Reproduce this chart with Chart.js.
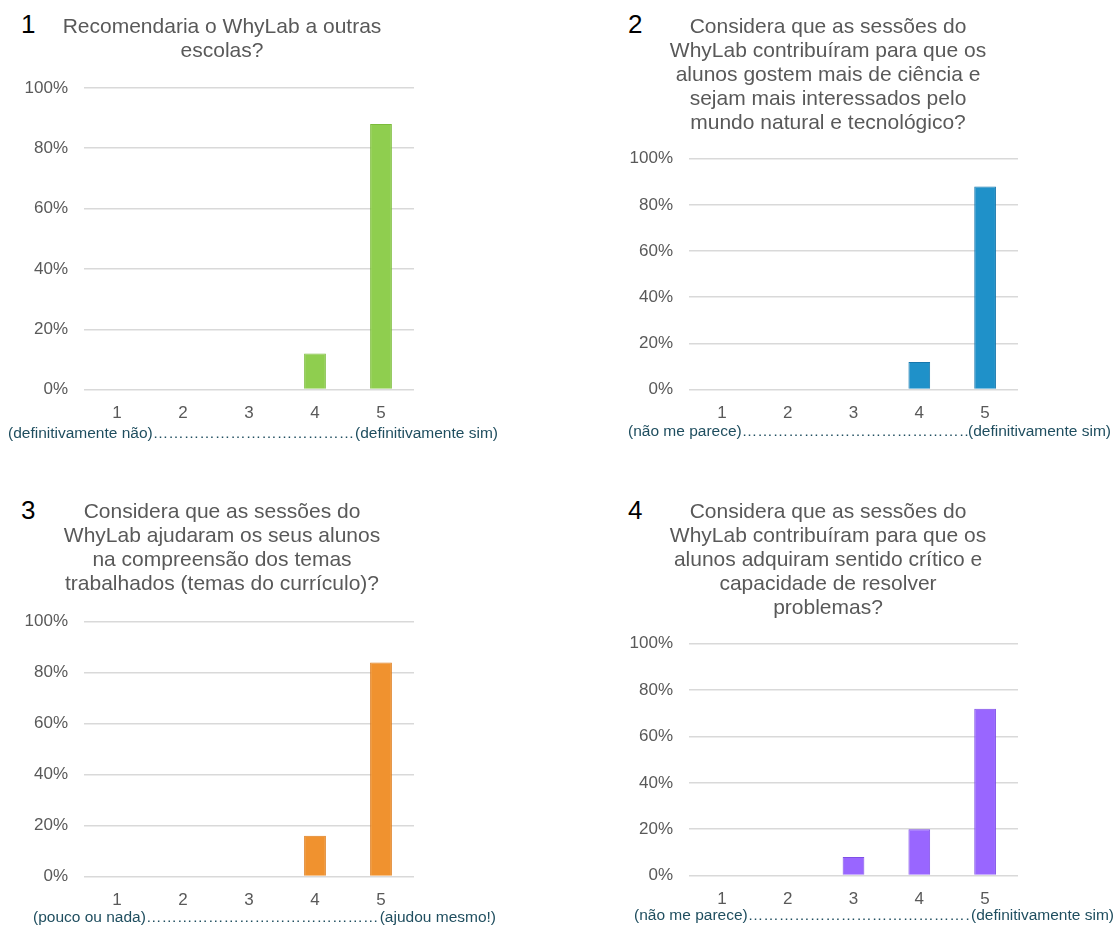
<!DOCTYPE html>
<html>
<head>
<meta charset="utf-8">
<script src="https://cdn.jsdelivr.net/npm/chart.js@4"></script>
<style>
  html, body { margin: 0; padding: 0; background: #fff; }
  body { width: 1119px; height: 929px; position: relative; overflow: hidden; font-family: "Liberation Sans", Arial, sans-serif; }
  .box { position: absolute; }
  .num { position: absolute; font-size: 26px; color: #000; line-height: 1; }
  .cap { position: absolute; display: flex; font-size: 15.5px; color: #1f4e5f; line-height: 1.2; white-space: nowrap; }
  .cap .mid { flex: 1; overflow: hidden; white-space: nowrap; }
</style>
</head>
<body>
<div class="num" style="left:21px;top:11px;">1</div>
<div class="num" style="left:628px;top:11px;">2</div>
<div class="num" style="left:21px;top:497px;">3</div>
<div class="num" style="left:628px;top:497px;">4</div>

<div class="box" id="b1" style="left:0px;top:0px;width:444px;height:438px;"><canvas id="c1"></canvas></div>
<div class="box" id="b2" style="left:610px;top:0px;width:436px;height:438px;"><canvas id="c2"></canvas></div>
<div class="box" id="b3" style="left:0px;top:470px;width:444px;height:455px;"><canvas id="c3"></canvas></div>
<div class="box" id="b4" style="left:610px;top:470px;width:436px;height:454px;"><canvas id="c4"></canvas></div>

<div class="cap" id="cap1" style="left:8px;top:424px;width:490px;"></div>
<div class="cap" id="cap2" style="left:628px;top:422px;width:483px;"></div>
<div class="cap" id="cap3" style="left:33px;top:908px;width:463px;"></div>
<div class="cap" id="cap4" style="left:634px;top:906px;width:480px;"></div>

<script>
// ---- data ----
const categories = ['1', '2', '3', '4', '5'];
const values1 = [0, 0, 0, 12, 88];
const values2 = [0, 0, 0, 12, 88];
const values3 = [0, 0, 0, 16, 84];
const values4 = [0, 0, 8, 20, 72];
const yTickValues = [0, 20, 40, 60, 80, 100];

const title1 = ['Recomendaria o WhyLab a outras', 'escolas?'];
const title2 = ['Considera que as sessões do', 'WhyLab contribuíram para que os', 'alunos gostem mais de ciência e', 'sejam mais interessados pelo', 'mundo natural e tecnológico?'];
const title3 = ['Considera que as sessões do', 'WhyLab ajudaram os seus alunos', 'na compreensão dos temas', 'trabalhados (temas do currículo)?'];
const title4 = ['Considera que as sessões do', 'WhyLab contribuíram para que os', 'alunos adquiram sentido crítico e', 'capacidade de resolver', 'problemas?'];

const capLeft1 = '(definitivamente  não)';
const capRight1 = '(definitivamente sim)';
const capLeft2 = '(não me parece)';
const capRight2 = '(definitivamente sim)';
const capLeft3 = '(pouco ou nada)';
const capRight3 = '(ajudou mesmo!)';
const capLeft4 = '(não me parece)';
const capRight4 = '(definitivamente sim)';

// ---- styles ----
const FONT = '"Liberation Sans", Arial, sans-serif';
const GRAY = '#595959';
const GRID = '#d9d9d9';

function makeChart(canvasId, values, title, fill, border, o) {
  return new Chart(document.getElementById(canvasId), {
    type: 'bar',
    data: {
      labels: categories,
      datasets: [{
        data: values,
        backgroundColor: fill,
        borderColor: border,
        borderWidth: 1,
        barPercentage: 0.33,
        categoryPercentage: 1.0
      }]
    },
    options: {
      responsive: true,
      maintainAspectRatio: false,
      animation: false,
      layout: { padding: 0 },
      plugins: {
        legend: { display: false },
        tooltip: { enabled: false },
        title: {
          display: true,
          text: title,
          color: GRAY,
          font: { family: FONT, size: 21, weight: 'normal', lineHeight: 1.14 },
          padding: { top: o.tTop, bottom: o.tBot }
        }
      },
      scales: {
        x: {
          grid: { display: false, drawTicks: false },
          border: { display: false },
          ticks: { color: GRAY, font: { family: FONT, size: 17 }, padding: 14 }
        },
        y: {
          min: 0,
          max: 100,
          afterBuildTicks: s => { s.ticks = yTickValues.map(v => ({ value: v })); },
          afterFit: s => { s.width = o.yW; },
          grid: { color: GRID, lineWidth: 1.5, drawTicks: false },
          border: { display: false },
          ticks: { color: GRAY, font: { family: FONT, size: 17 }, padding: 16, callback: v => v + '%' }
        },
        y2: {
          position: 'right',
          display: true,
          afterFit: s => { s.width = o.rW; },
          grid: { display: false, drawTicks: false },
          border: { display: false },
          ticks: { display: false }
        }
      }
    }
  });
}

makeChart('c1', values1, title1, '#8fce4f', '#7cbc3c', { tTop: 15, tBot: 25, yW: 84, rW: 30 });
makeChart('c2', values2, title2, '#1f91c9', '#1677ad', { tTop: 15, tBot: 24, yW: 79, rW: 28 });
makeChart('c3', values3, title3, '#f0922f', '#de7c1c', { tTop: 30, tBot: 26, yW: 84, rW: 30 });
makeChart('c4', values4, title4, '#9966ff', '#7f4fe6', { tTop: 30, tBot: 24, yW: 79, rW: 28 });

function fillCap(id, left, right) {
  const el = document.getElementById(id);
  const a = document.createElement('span'); a.textContent = left;
  const m = document.createElement('span'); m.className = 'mid'; m.textContent = '…'.repeat(30);
  const b = document.createElement('span'); b.textContent = right;
  el.appendChild(a); el.appendChild(m); el.appendChild(b);
}
fillCap('cap1', capLeft1, capRight1);
fillCap('cap2', capLeft2, capRight2);
fillCap('cap3', capLeft3, capRight3);
fillCap('cap4', capLeft4, capRight4);
</script>
</body>
</html>
